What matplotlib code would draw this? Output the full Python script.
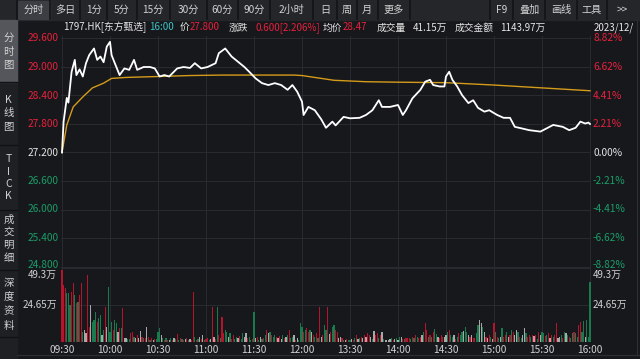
import matplotlib
matplotlib.use("Agg")
import matplotlib.pyplot as plt
from matplotlib.patches import Rectangle
from matplotlib.lines import Line2D

plt.rcParams['font.family'] = ['Noto Sans CJK SC', 'DejaVu Sans']

# ---------------- data ----------------
prev_close = 27.2
price_ticks = [29.6, 29.0, 28.4, 27.8, 27.2, 26.6, 26.0, 25.4, 24.8]
price_tick_labels = ["29.600", "29.000", "28.400", "27.800", "27.200", "26.600", "26.000", "25.400", "24.800"]
pct_tick_labels = ["8.82%", "6.62%", "4.41%", "2.21%", "0.00%", "-2.21%", "-4.41%", "-6.62%", "-8.82%"]
time_ticks = [0, 30, 60, 90, 120, 150, 180, 210, 240, 270, 300, 330]
time_labels = ["09:30", "10:00", "10:30", "11:00", "11:30", "12:00", "13:30", "14:00", "14:30", "15:00", "15:30", "16:00"]
vol_ticks = [24.65, 49.3]
vol_tick_labels = ["24.65万", "49.3万"]

price_minutes = [0, 1, 3, 4, 6, 8, 9, 11, 13, 15, 17, 20, 22, 24, 26, 28, 30, 31, 33, 36, 39, 42, 45, 47, 51,
                 55, 58, 61, 64, 67, 72, 76, 80, 83, 87, 91, 96, 98, 102, 106, 110, 114, 117, 121, 125, 129,
                 133, 137, 141, 144, 147, 150, 151, 154, 158, 162, 165, 169, 171, 176, 180, 186, 190, 194,
                 198, 200, 205, 210, 213, 215, 219, 224, 227, 230, 232, 236, 239, 240, 242, 244, 247, 250,
                 254, 257, 260, 264, 267, 272, 276, 280, 283, 287, 292, 299, 303, 307, 313, 317, 321, 324,
                 327, 329, 330]
price_values = [27.20, 27.85, 28.35, 28.25, 28.90, 29.15, 28.83, 28.95, 28.80, 29.08, 29.25, 29.39, 29.15,
                29.22, 29.10, 29.43, 29.53, 29.25, 29.08, 28.83, 28.97, 28.94, 29.15, 28.94, 29.00, 29.00,
                28.97, 28.80, 28.83, 28.80, 28.97, 29.00, 28.98, 29.08, 28.97, 29.00, 29.08, 29.29, 29.39,
                29.22, 29.11, 29.00, 28.90, 28.76, 28.66, 28.62, 28.66, 28.62, 28.52, 28.62, 28.48, 28.27,
                27.99, 28.16, 28.09, 27.90, 27.72, 27.85, 27.77, 27.95, 27.92, 27.93, 27.99, 28.09, 28.30,
                28.16, 28.16, 28.20, 27.99, 28.09, 28.34, 28.52, 28.69, 28.73, 28.62, 28.59, 28.59, 28.80,
                28.90, 28.73, 28.59, 28.41, 28.24, 28.30, 28.14, 28.06, 28.09, 27.99, 27.93, 27.93, 27.74,
                27.71, 27.67, 27.64, 27.71, 27.78, 27.74, 27.67, 27.72, 27.85, 27.81, 27.83, 27.80]

avg_minutes = [0, 3, 7, 13, 19, 26, 31, 40, 60, 80, 100, 130, 145, 150, 160, 170, 190, 210, 240, 270, 295, 330]
avg_values = [27.20, 27.78, 28.16, 28.37, 28.56, 28.66, 28.76, 28.78, 28.80, 28.82, 28.83, 28.83, 28.83,
              28.82, 28.77, 28.72, 28.69, 28.68, 28.67, 28.62, 28.57, 28.50]

# per-minute volume (万), minutes 0..150 (morning) and 151..330 (afternoon)
volume_am = [48.2, 38.0, 35.8, 32.5, 32.9, 25.0, 33.6, 39.2, 31.4, 25.8,
             26.9, 31.4, 39.2, 6.7, 7.8, 5.6, 44.8, 10.1, 24.6, 13.4,
             14.6, 20.2, 13.4, 15.7, 17.9, 4.5, 8.0, 23.5, 10.1, 37.0,
             6.7, 13.4, 7.8, 14.6, 12.3, 6.7, 9.0, 9.0, 22.4, 2.2,
             2.7, 2.0, 1.8, 5.6, 6.7, 3.4, 2.2, 4.5, 2.2, 7.2,
             3.4, 2.2, 2.5, 10.1, 3.4, 1.1, 2.2, 1.1, 1.6, 1.6,
             6.7, 9.0, 4.5, 2.2, 1.1, 2.2, 1.1, 1.1, 2.2, 1.1,
             2.2, 1.5, 5.2, 1.1, 2.2, 1.5, 1.1, 1.6, 2.2, 1.2,
             1.6, 1.2, 33.2, 3.4, 1.1, 1.5, 3.4, 1.5, 4.5, 1.1,
             1.5, 2.2, 1.2, 1.5, 23.5, 3.4, 2.0, 23.5, 4.5, 2.2,
             16.8, 5.6, 7.8, 6.7, 3.4, 5.6, 2.0, 4.5, 2.0, 3.4,
             2.2, 3.8, 2.0, 5.6, 3.4, 5.6, 2.2, 3.4, 1.1, 2.0,
             20.2, 2.2, 3.4, 1.1, 3.4, 2.0, 2.2, 4.5, 7.8, 5.6,
             6.7, 4.5, 3.4, 4.5, 3.4, 2.2, 3.8, 1.6, 4.5, 2.2,
             3.4, 4.5, 7.8, 2.2, 3.4, 4.5, 1.1, 2.2, 1.1, 12.3, 10.1]
# colour class per minute: r = up, g = down, w = flat
colors_am = ("rrrgggrrgr" "grrgwwrrwg" "ggrggwgrwg" "ggrggwrgrw" "wggrrgwrww"
             "rgrwrgrwrg" "ggwgrgrwgr" "wgrgrgrwrg" "wrrgrgwrwg" "rrgwrwrgrg"
             "rrggwgrrgg" "wrggwwrggr" "gwrgwgrgrw" "grggrwrwgr" "wgrggwrwggg")
volume_pm = [6.7, 7.8, 9.0, 6.7, 7.8, 6.7, 4.5, 3.4, 5.6, 2.2,
             23.5, 3.0, 4.5, 11.2, 7.8, 23.1, 5.0, 6.7, 10.1, 11.2,
             7.8, 6.7, 2.2, 3.4, 2.2, 1.1, 1.1, 1.6, 1.2, 1.1,
             1.6, 1.1, 2.2, 4.5, 1.6, 2.2, 3.4, 2.2, 4.5, 3.4,
             6.0, 4.5, 3.4, 2.0, 7.4, 4.5, 5.6, 2.2, 4.5, 6.7,
             1.6, 1.1, 1.1, 1.1, 1.6, 2.2, 1.1, 1.6, 2.2, 1.1,
             3.4, 3.4, 1.6, 1.6, 2.2, 2.2, 2.2, 1.5, 3.4, 2.2,
             4.5, 3.4, 2.2, 3.4, 4.5, 6.7, 12.8, 7.8, 3.4, 4.5,
             2.9, 6.7, 8.5, 5.2, 3.4, 2.2, 4.5, 3.4, 2.9, 4.5,
             6.7, 7.8, 4.5, 3.4, 4.5, 2.0, 3.4, 6.0, 4.5, 6.7,
             7.4, 10.1, 6.7, 4.5, 3.4, 4.5, 2.2, 2.2, 5.6, 11.2,
             14.6, 12.3, 10.1, 6.7, 3.4, 2.2, 4.5, 3.4, 2.0, 12.3,
             6.7, 3.4, 2.2, 3.4, 9.0, 3.4, 4.5, 6.7, 3.4, 4.5,
             7.8, 6.7, 4.5, 7.8, 6.7, 3.4, 2.2, 4.5, 9.0, 5.6,
             3.4, 4.5, 2.9, 4.5, 3.8, 4.5, 2.0, 6.7, 4.5, 6.7,
             5.6, 3.8, 4.5, 5.6, 2.2, 4.5, 2.9, 4.5, 12.3, 2.2,
             3.4, 4.5, 2.2, 6.7, 5.6, 4.5, 3.4, 2.2, 5.6, 6.7,
             5.6, 3.0, 11.2, 13.4, 6.7, 13.9, 3.4, 14.6, 3.0, 40.3]
colors_pm = ("rgrrgwrgrg" "rwrggrwrgg" "rrwwrgwrgg" "wrgrwgrwrw" "rrwgwrrgrw"
             "gwwwwgrwgw" "gwrgrrrgrg" "rgrrwgrrgr" "grggwrrrww" "grggwrgrgg"
             "wggwrwrrgg" "wwgwrwrgwr" "grgwgrrgwr" "grwwgrgwwg" "rrgrwrgrwg"
             "grgrwrgrrw" "wgrgwgrggr" "ggrrggwggg")

# ---------------- style ----------------
BG = '#17181c'
GRID = '#2a2b30'
RED = '#e8213c'
GREEN = '#1a9e68'
WHITE = '#e6e6e6'
LIGHT = '#d2d2d2'
BAR_COL = {'r': '#b5142c', 'g': '#1a7a4e', 'w': '#a8a8a8'}

W, H = 640, 359
fig = plt.figure(figsize=(W / 100, H / 100), dpi=100, facecolor=BG)


def fx(x):
    return x / W


def fy(y):
    return 1 - y / H


def axes_px(x0, y0, x1, y1):
    return fig.add_axes([fx(x0), fy(y1), fx(x1) - fx(x0), fy(y0) - fy(y1)])


# frame pieces
fig.patches.append(Rectangle((0, fy(20)), 1, 20 / H, transform=fig.transFigure, color='#25262a', zorder=0))
fig.patches.append(Rectangle((fx(18), fy(19)), fx(50) - fx(18), 18 / H, transform=fig.transFigure,
                             color='#3d3e43', zorder=1))
fig.patches.append(Rectangle((0, 0), fx(17), fy(20), transform=fig.transFigure, color='#1f2024', zorder=0))
fig.patches.append(Rectangle((0, fy(82)), fx(17), 62 / H, transform=fig.transFigure, color='#55565b', zorder=1))
for sx in [17, 50, 80, 107, 137, 170, 207, 238, 270, 313, 337, 357, 378, 410, 490, 513, 545, 577, 607]:
    fig.lines.append(Line2D([fx(sx), fx(sx)], [fy(1), fy(19)], transform=fig.transFigure,
                            color='#121316', lw=1.2, zorder=2))
for sy in [82, 145, 210, 270, 337]:
    fig.lines.append(Line2D([0, fx(17)], [fy(sy), fy(sy)], transform=fig.transFigure,
                            color='#101114', lw=1.0, zorder=2))
fig.lines.append(Line2D([fx(637), fx(637)], [fy(20), fy(355)], transform=fig.transFigure,
                        color='#2e2f34', lw=0.8))
fig.lines.append(Line2D([fx(17), 1], [fy(355), fy(355)], transform=fig.transFigure,
                        color='#2e2f34', lw=0.8))

# top buttons
buttons = [("分时", 34), ("多日", 65), ("1分", 94), ("5分", 122), ("15分", 153), ("30分", 188),
           ("60分", 222), ("90分", 254), ("2小时", 291), ("日", 325), ("周", 347), ("月", 367),
           ("更多", 394), ("F9", 502), ("叠加", 529), ("画线", 561), ("工具", 592), (">>", 622)]
for t, x in buttons:
    fig.text(fx(x), fy(10), t, color=LIGHT, fontsize=7.3, ha='center', va='center')

# sidebar labels
side = [("分", 38), ("时", 52), ("图", 65), ("K", 100), ("线", 113), ("图", 127), ("T", 159), ("I", 172),
        ("C", 184), ("K", 196), ("成", 220), ("交", 232), ("明", 245), ("细", 258), ("深", 283),
        ("度", 297), ("资", 311), ("料", 326)]
for t, y in side:
    fig.text(fx(8.5), fy(y), t, color=LIGHT, fontsize=7.5, ha='center', va='center')

# info row
info = [("1797.HK[东方甄选]", 63, WHITE), ("16:00", 149, '#3cc6c6'), ("价", 180, WHITE),
        ("27.800", 190, RED), ("涨跌", 229, WHITE), ("0.600[2.206%]", 255, RED), ("均价", 323, WHITE),
        ("28.47", 343, RED), ("成交量", 377, WHITE), ("41.15万", 413, WHITE), ("成交金额", 455, WHITE),
        ("1143.97万", 500, WHITE), ("2023/12/", 594, WHITE)]
for t, x, c in info:
    fig.text(fx(x), fy(27.5), t, color=c, fontsize=7, ha='left', va='center')

# ---------------- price panel ----------------
X0, X1 = 61.2, 590.8
ax = axes_px(X0, 35.5, X1, 269.5)
ax.set_facecolor(BG)
ax.set_xlim(-0.5, 330.5)
ax.set_ylim(24.737, 29.663)
for p in price_ticks:
    ax.axhline(p, color=GRID, lw=0.7, zorder=0)
for t in time_ticks:
    ax.axvline(t, color=GRID, lw=0.7, zorder=0)
ax.plot(avg_minutes, avg_values, color='#d49b1a', lw=1.0, zorder=2)
ax.plot(price_minutes, price_values, color='white', lw=1.3, zorder=3)
ax.set_xticks([])
ax.set_yticks([])
for s in ax.spines.values():
    s.set_visible(False)

for p, lab, plab in zip(price_ticks, price_tick_labels, pct_tick_labels):
    if p > prev_close + 1e-9:
        c = RED
    elif p < prev_close - 1e-9:
        c = GREEN
    else:
        c = WHITE
    ypix = 152.5 - (p - prev_close) * 47.5
    if p == price_ticks[-1]:
        ypix -= 1.5
    fig.text(fx(59), fy(ypix), lab, color=c, fontsize=7.3, ha='right', va='center')
    fig.text(fx(593), fy(ypix), plab, color=c, fontsize=7.3, ha='left', va='center')

# ---------------- volume panel ----------------
axv = axes_px(X0, 268.4, X1, 341.7)
axv.set_facecolor(BG)
axv.set_xlim(-0.5, 330.5)
axv.set_ylim(0, 49.3)
for v in vol_ticks:
    axv.axhline(v, color=GRID, lw=0.7, zorder=0)
for t in time_ticks:
    axv.axvline(t, color=GRID, lw=0.7, zorder=0)
volumes = volume_am + volume_pm
class_str = colors_am + colors_pm
n = min(len(volumes), len(class_str))
vcolors = [BAR_COL[c] for c in class_str[:n]]
axv.bar(list(range(n)), volumes[:n], width=0.75, color=vcolors, zorder=2)
axv.set_xticks([])
axv.set_yticks([])
for s in axv.spines.values():
    s.set_visible(False)

for v, lab in zip(vol_ticks, vol_tick_labels):
    ypix = 341.7 - v / 49.3 * 73.3
    if v == 49.3:
        ypix = 275
    fig.text(fx(57), fy(ypix), lab, color=LIGHT, fontsize=7.1, ha='right', va='center')
    fig.text(fx(593), fy(ypix), lab, color=LIGHT, fontsize=7.1, ha='left', va='center')

for t, lab in zip(time_ticks, time_labels):
    xpix = 62 + t * 1.6
    fig.text(fx(xpix), fy(350), lab, color=LIGHT, fontsize=7.3, ha='center', va='center')

fig.savefig("out.png", dpi=100, facecolor=BG)
